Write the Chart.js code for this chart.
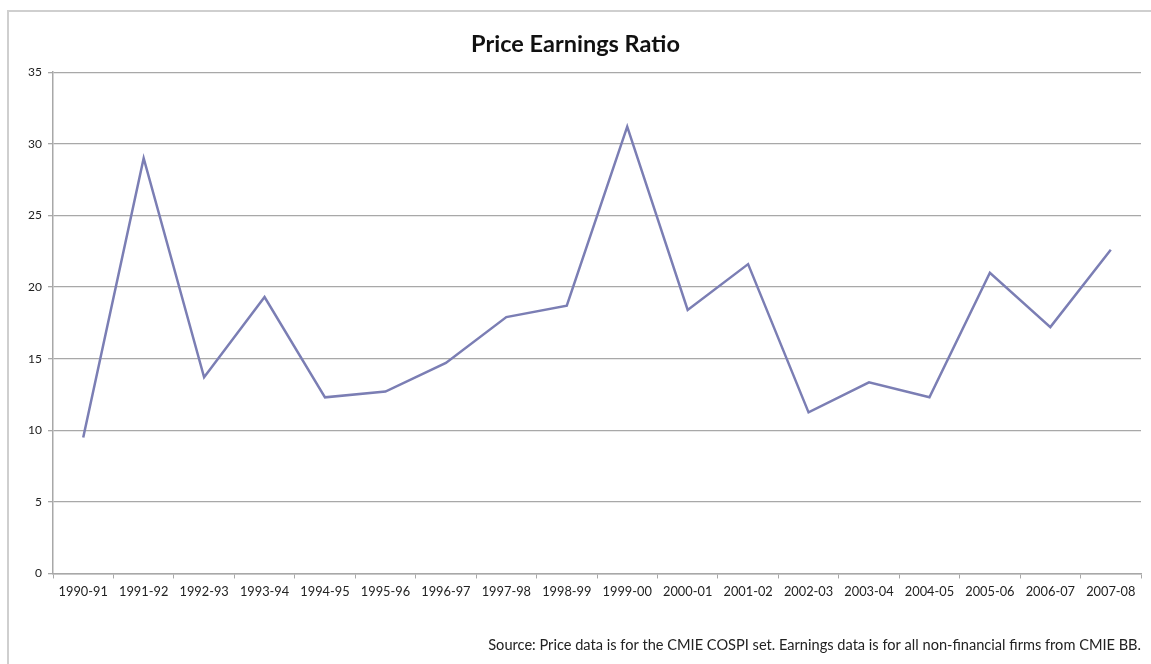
<!DOCTYPE html>
<html>
<head>
<meta charset="utf-8">
<script src="https://cdn.jsdelivr.net/npm/chart.js@4"></script>
<style>
  html, body { margin: 0; padding: 0; background: #fff; overflow: hidden; }
  #wrap { position: relative; width: 1151px; height: 664px; }
  #frame { position: absolute; left: 7px; top: 10px; width: 2000px; height: 2000px;
           border: 2px solid #cfcfcf; box-sizing: border-box; }
  canvas { position: absolute; left: 0; top: 0; }
</style>
</head>
<body>
<div id="wrap">
  <div id="frame"></div>
  <canvas id="chart" width="1151" height="664"></canvas>
</div>
<script>
// Data
const years = ['1990-91', '1991-92', '1992-93', '1993-94', '1994-95', '1995-96',
  '1996-97', '1997-98', '1998-99', '1999-00', '2000-01', '2001-02',
  '2002-03', '2003-04', '2004-05', '2005-06', '2006-07', '2007-08'];
const peRatio = [9.5, 29.0, 13.7, 19.3, 12.3, 12.7, 14.7, 17.9, 18.7, 31.2,
  18.4, 21.6, 11.25, 13.35, 12.3, 21.0, 17.2, 22.6];
const yMin = 0;
const yMax = 35;
const yStep = 5;

const chartTitle = 'Price Earnings Ratio';
const sourceNote = 'Source: Price data is for the CMIE COSPI set. Earnings data is for all non-financial firms from CMIE BB.';

const axisGray = '#a8a8a8';
const textColor = '#222';

const ctx = document.getElementById('chart').getContext('2d');
new Chart(ctx, {
  type: 'line',
  data: {
    labels: years,
    datasets: [{
      label: 'P/E',
      data: peRatio,
      borderColor: '#7b7eb4',
      borderWidth: 2.5,
      pointRadius: 0,
      tension: 0,
      fill: false
    }]
  },
  options: {
    responsive: false,
    animation: false,
    layout: { padding: { left: 10, right: 10, top: 30, bottom: 10 } },
    plugins: {
      legend: { display: false },
      tooltip: { enabled: false },
      title: {
        display: true,
        text: chartTitle,
        color: '#111',
        font: { family: 'Lato', size: 23.5, weight: 'bold' },
        padding: { top: 0, bottom: 14 }
      },
      subtitle: {
        display: true,
        position: 'bottom',
        align: 'end',
        text: sourceNote,
        color: textColor,
        font: { family: 'Lato', size: 14.6 },
        padding: { top: 0, bottom: 0 }
      }
    },
    scales: {
      x: {
        offset: true,
        grid: { offset: true, drawOnChartArea: false, drawTicks: true, tickLength: 5, color: axisGray },
        border: { color: axisGray, width: 1.5 },
        ticks: { color: textColor, font: { family: 'Lato', size: 12.8 }, padding: 6, maxRotation: 0, autoSkip: false },
        afterFit: function(scale) { scale.height = 63; }
      },
      y: {
        min: yMin,
        max: yMax,
        grid: { color: axisGray, lineWidth: 1.3, tickLength: 5 },
        border: { color: axisGray, width: 1.5 },
        ticks: { stepSize: yStep, color: textColor, font: { family: 'Lato', size: 12 }, padding: 6 },
        afterFit: function(scale) { scale.width = 43; }
      }
    }
  }
});
</script>
</body>
</html>
